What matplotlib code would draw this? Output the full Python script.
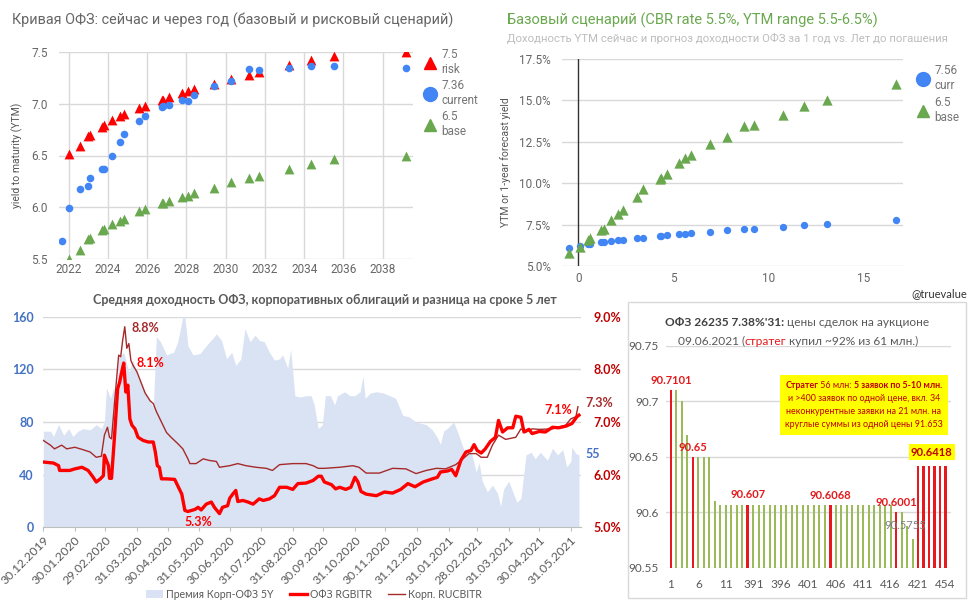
import matplotlib
matplotlib.use('Agg')
import matplotlib.pyplot as plt
import pandas as pd
from matplotlib.lines import Line2D
from matplotlib.patches import Patch, Rectangle
from matplotlib.offsetbox import TextArea, HPacker, VPacker, AnnotationBbox
from matplotlib.ticker import FuncFormatter

plt.rcParams['font.family'] = ['Roboto', 'DejaVu Sans']
XL_FONT = ['Lato', 'Noto Sans', 'DejaVu Sans']

# ---------------- Panel 1: OFZ curve now and in one year ----------------
years_current = [2021.66, 2022.0, 2022.58, 2022.97, 2023.1, 2023.69, 2023.79, 2024.2, 2024.59, 2024.83,
                 2025.56, 2025.9, 2026.74, 2026.79, 2027.11, 2027.76, 2028.06, 2028.4, 2029.41, 2030.28,
                 2031.2, 2031.71, 2033.23, 2034.35, 2035.53, 2039.17]
ytm_current = [5.67, 5.99, 6.18, 6.21, 6.28, 6.37, 6.37, 6.50, 6.63, 6.71,
               6.83, 6.88, 6.97, 6.98, 6.99, 7.04, 7.03, 7.08, 7.17, 7.22,
               7.34, 7.33, 7.35, 7.36, 7.36, 7.35]
years_forecast = [2022.0, 2022.58, 2022.97, 2023.1, 2023.69, 2023.79, 2024.2, 2024.59, 2024.83,
                  2025.56, 2025.9, 2026.74, 2026.79, 2027.11, 2027.76, 2028.06, 2028.4, 2029.41, 2030.28,
                  2031.2, 2031.71, 2033.23, 2034.35, 2035.53, 2039.17]
ytm_risk = [6.51, 6.59, 6.69, 6.70, 6.78, 6.79, 6.84, 6.88, 6.90,
            6.96, 6.98, 7.04, 7.04, 7.07, 7.10, 7.12, 7.14, 7.19, 7.24,
            7.28, 7.31, 7.37, 7.42, 7.46, 7.50]
ytm_base = [5.50, 5.59, 5.69, 5.70, 5.78, 5.79, 5.84, 5.87, 5.89,
            5.96, 5.98, 6.04, 6.04, 6.06, 6.10, 6.11, 6.14, 6.19, 6.24,
            6.28, 6.30, 6.37, 6.42, 6.47, 6.50]
p1_year_ticks = [2022, 2024, 2026, 2028, 2030, 2032, 2034, 2036, 2038]
p1_yield_ticks = [5.5, 6.0, 6.5, 7.0, 7.5]
p1_legend = ['7.5\nrisk', '7.36\ncurrent', '6.5\nbase']

# ---------------- Panel 2: base scenario vs years to maturity ----------------
years_to_maturity = [-0.49, 0.1, 0.5, 0.61, 1.19, 1.35, 1.73, 2.08, 2.35, 3.08, 3.41, 4.27, 4.32, 4.64,
                     5.3, 5.6, 5.92, 6.93, 7.81, 8.73, 9.26, 10.77, 11.89, 13.1, 16.72]
ytm_curr2 = [6.11, 6.22, 6.31, 6.33, 6.43, 6.45, 6.51, 6.57, 6.59, 6.69, 6.71, 6.81, 6.81, 6.85,
             6.91, 6.94, 6.98, 7.08, 7.16, 7.22, 7.26, 7.38, 7.46, 7.54, 7.78]
forecast_base2 = [5.77, 6.17, 6.57, 6.67, 7.18, 7.24, 7.76, 8.17, 8.39, 9.15, 9.66, 10.26, 10.30, 10.58,
                  11.19, 11.53, 11.71, 12.36, 12.82, 13.47, 13.53, 14.13, 14.64, 15.04, 16.01]
p2_x_ticks = [0, 5, 10, 15]
p2_y_ticks = [5.0, 7.5, 10.0, 12.5, 15.0, 17.5]
p2_legend = ['7.56\ncurr', '6.5\nbase']

# ---------------- Panel 3: 5Y yields and spread ----------------
spread_dates = ['2019-12-30', '2020-01-06', '2020-01-09', '2020-01-14', '2020-01-19', '2020-01-24', '2020-01-28',
                '2020-02-02', '2020-02-07', '2020-02-14', '2020-02-20', '2020-02-25', '2020-02-28', '2020-03-01',
                '2020-03-05', '2020-03-08', '2020-03-11', '2020-03-13', '2020-03-18', '2020-03-23', '2020-03-27',
                '2020-04-01', '2020-04-06', '2020-04-13', '2020-04-16', '2020-04-19', '2020-04-23', '2020-04-29',
                '2020-05-06', '2020-05-10', '2020-05-15', '2020-05-17', '2020-05-20', '2020-05-25', '2020-06-01',
                '2020-06-07', '2020-06-14', '2020-06-17', '2020-06-22', '2020-06-27', '2020-07-02', '2020-07-06',
                '2020-07-11', '2020-07-15', '2020-07-20', '2020-07-25', '2020-07-29', '2020-08-03', '2020-08-08',
                '2020-08-13', '2020-08-18', '2020-08-21', '2020-08-26', '2020-08-29', '2020-09-02', '2020-09-07',
                '2020-09-13', '2020-09-18', '2020-09-21', '2020-09-25', '2020-09-29', '2020-10-02', '2020-10-07',
                '2020-10-11', '2020-10-14', '2020-10-21', '2020-10-26', '2020-10-31', '2020-11-05', '2020-11-08',
                '2020-11-10', '2020-11-15', '2020-11-21', '2020-11-28', '2020-12-04', '2020-12-10', '2020-12-17',
                '2020-12-23', '2020-12-30', '2021-01-09', '2021-01-15', '2021-01-20', '2021-01-23', '2021-01-26',
                '2021-01-31', '2021-02-05', '2021-02-10', '2021-02-15', '2021-02-20', '2021-02-23', '2021-02-27',
                '2021-03-02', '2021-03-05', '2021-03-10', '2021-03-15', '2021-03-20', '2021-03-23', '2021-03-26',
                '2021-03-31', '2021-04-04', '2021-04-08', '2021-04-12', '2021-04-17', '2021-04-22', '2021-04-26',
                '2021-05-01', '2021-05-08', '2021-05-13', '2021-05-18', '2021-05-23', '2021-05-27', '2021-05-31',
                '2021-06-01', '2021-06-05', '2021-06-08']
spread_bp = [73, 73, 69, 78, 70, 75, 69,
             73, 75, 74, 78, 75, 80, 106,
             98, 106, 91, 129, 133, 118, 127,
             114, 106, 95, 91, 145, 141, 131,
             133, 141, 160, 160, 138, 131, 132,
             138, 144, 147, 142, 128, 133, 123,
             128, 151, 141, 146, 142, 141, 133,
             127, 128, 131, 121, 135, 100, 99,
             100, 100, 93, 75, 78, 100, 100,
             93, 100, 103, 100, 100, 103, 115,
             98, 102, 103, 102, 100, 98, 85,
             84, 80, 78, 74, 68, 63, 73,
             76, 80, 70, 59, 60, 55, 42,
             49, 35, 27, 32, 26, 16, 29,
             35, 27, 19, 22, 55, 57, 52,
             57, 51, 60, 55, 59, 46, 50,
             61, 56, 55]

ofz_dates = ['2019-12-30', '2020-01-09', '2020-01-14', '2020-01-15', '2020-01-25', '2020-01-30', '2020-02-06',
             '2020-02-12', '2020-02-17', '2020-02-20', '2020-02-24', '2020-02-27', '2020-02-28', '2020-03-03',
             '2020-03-04', '2020-03-06', '2020-03-09', '2020-03-12', '2020-03-14', '2020-03-16', '2020-03-18',
             '2020-03-20', '2020-03-22', '2020-03-24', '2020-03-26', '2020-03-29', '2020-04-01', '2020-04-06',
             '2020-04-11', '2020-04-16', '2020-04-18', '2020-04-20', '2020-04-22', '2020-04-24', '2020-04-29',
             '2020-05-07', '2020-05-10', '2020-05-14', '2020-05-17', '2020-05-20', '2020-05-27', '2020-05-30',
             '2020-06-02', '2020-06-07', '2020-06-12', '2020-06-15', '2020-06-20', '2020-06-23', '2020-06-28',
             '2020-06-30', '2020-07-03', '2020-07-06', '2020-07-08', '2020-07-13', '2020-07-18', '2020-07-23',
             '2020-07-29', '2020-08-02', '2020-08-08', '2020-08-13', '2020-08-18', '2020-08-25', '2020-08-31',
             '2020-09-05', '2020-09-13', '2020-09-20', '2020-09-25', '2020-09-28', '2020-10-01', '2020-10-08',
             '2020-10-12', '2020-10-16', '2020-10-22', '2020-10-27', '2020-10-31', '2020-11-03', '2020-11-06',
             '2020-11-11', '2020-11-21', '2020-11-29', '2020-12-07', '2020-12-15', '2020-12-22', '2020-12-29',
             '2021-01-06', '2021-01-15', '2021-01-20', '2021-01-23', '2021-01-30', '2021-02-03', '2021-02-07',
             '2021-02-12', '2021-02-17', '2021-02-22', '2021-02-25', '2021-02-28', '2021-03-04', '2021-03-08',
             '2021-03-13', '2021-03-18', '2021-03-21', '2021-03-25', '2021-03-30', '2021-04-04', '2021-04-07',
             '2021-04-12', '2021-04-15', '2021-04-20', '2021-04-23', '2021-04-30', '2021-05-06', '2021-05-13',
             '2021-05-19', '2021-05-26', '2021-06-01', '2021-06-06', '2021-06-08']
ofz_yield = [6.24, 6.22, 6.17, 6.08, 6.08, 6.11, 6.14,
             6.08, 5.95, 5.86, 5.92, 5.98, 6.37, 6.17,
             5.93, 5.93, 6.75, 7.63, 7.76, 7.95, 8.12,
             7.57, 7.70, 7.06, 6.94, 6.87, 6.71, 6.65,
             6.62, 6.62, 6.43, 6.17, 6.14, 5.92, 5.92,
             5.91, 5.79, 5.63, 5.32, 5.30, 5.34, 5.38,
             5.33, 5.44, 5.48, 5.38, 5.26, 5.38, 5.41,
             5.55, 5.63, 5.70, 5.49, 5.51, 5.48, 5.44,
             5.54, 5.51, 5.54, 5.60, 5.76, 5.76, 5.72,
             5.83, 5.84, 5.89, 5.97, 5.97, 5.86, 5.81,
             5.73, 5.76, 5.72, 5.76, 5.95, 5.86, 5.68,
             5.63, 5.60, 5.67, 5.65, 5.72, 5.83, 5.77,
             5.86, 5.92, 5.95, 6.05, 6.07, 6.10, 5.98,
             6.27, 6.43, 6.46, 6.57, 6.46, 6.41, 6.49,
             6.63, 6.71, 7.03, 6.81, 6.89, 6.89, 7.11,
             7.09, 6.81, 6.86, 6.78, 6.82, 6.81, 6.90,
             6.89, 6.92, 6.97, 7.10, 7.13]

corp_dates = ['2019-12-30', '2020-01-06', '2020-01-10', '2020-01-17', '2020-01-22', '2020-01-30', '2020-02-06',
              '2020-02-14', '2020-02-20', '2020-02-25', '2020-02-28', '2020-03-02', '2020-03-04', '2020-03-06',
              '2020-03-09', '2020-03-13', '2020-03-15', '2020-03-17', '2020-03-19', '2020-03-21', '2020-03-23',
              '2020-03-25', '2020-03-27', '2020-03-31', '2020-04-03', '2020-04-08', '2020-04-13', '2020-04-16',
              '2020-04-19', '2020-04-24', '2020-04-29', '2020-05-04', '2020-05-10', '2020-05-15', '2020-05-20',
              '2020-05-22', '2020-05-28', '2020-06-04', '2020-06-10', '2020-06-17', '2020-06-20', '2020-06-30',
              '2020-07-08', '2020-07-16', '2020-07-26', '2020-08-05', '2020-08-11', '2020-08-18', '2020-08-31',
              '2020-09-13', '2020-09-20', '2020-09-25', '2020-10-01', '2020-10-16', '2020-10-29', '2020-11-04',
              '2020-11-11', '2020-11-24', '2020-12-07', '2020-12-20', '2020-12-30', '2021-01-09', '2021-01-19',
              '2021-01-28', '2021-02-07', '2021-02-14', '2021-02-20', '2021-02-27', '2021-03-04', '2021-03-10',
              '2021-03-15', '2021-03-21', '2021-03-28', '2021-04-07', '2021-04-12', '2021-04-17', '2021-04-23',
              '2021-04-30', '2021-05-13', '2021-05-26', '2021-05-31', '2021-06-05', '2021-06-07']
corp_yield = [6.65, 6.56, 6.49, 6.56, 6.49, 6.52, 6.48,
              6.43, 6.33, 6.35, 6.75, 6.90, 6.71, 6.68,
              7.38, 8.27, 8.24, 8.56, 8.81, 8.40, 8.49,
              8.17, 8.08, 7.95, 7.80, 7.55, 7.40, 7.35,
              7.20, 7.00, 6.80, 6.70, 6.59, 6.49, 6.30,
              6.21, 6.21, 6.30, 6.27, 6.25, 6.14, 6.17,
              6.21, 6.17, 6.14, 6.12, 6.08, 6.19, 6.21,
              6.21, 6.17, 6.12, 6.12, 6.14, 6.17, 6.14,
              6.03, 6.03, 6.12, 6.11, 6.02, 6.08, 6.12,
              6.11, 6.19, 6.30, 6.40, 6.40, 6.33, 6.33,
              6.56, 6.75, 6.67, 6.71, 6.87, 6.81, 6.87,
              6.86, 6.87, 6.94, 7.06, 7.10, 7.29]
p3_date_ticks = ['2019-12-30', '2020-01-30', '2020-02-29', '2020-03-31', '2020-04-30', '2020-05-31',
                 '2020-06-30', '2020-07-31', '2020-08-31', '2020-09-30', '2020-10-31', '2020-11-30',
                 '2020-12-31', '2021-01-31', '2021-02-28', '2021-03-31', '2021-04-30', '2021-05-31']
p3_bp_ticks = [0, 40, 80, 120, 160]
p3_pct_ticks = [5.0, 6.0, 7.0, 8.0, 9.0]
p3_series_names = ['Премия Корп-ОФЗ 5Y', 'ОФЗ RGBITR', 'Корп. RUCBITR']

# ---------------- Panel 4: auction deal prices ----------------
auction_prices = [90.7101, 90.71, 90.70, 90.67, 90.65, 90.65, 90.65, 90.65, 90.61,
                  90.607, 90.607, 90.607, 90.607, 90.607, 90.607,
                  90.607, 90.607, 90.607, 90.607, 90.607, 90.607, 90.607,
                  90.607, 90.607, 90.607, 90.607, 90.607, 90.607, 90.607,
                  90.6068, 90.6068, 90.6068, 90.6068, 90.6068, 90.6068, 90.6068,
                  90.6068, 90.6068, 90.6068, 90.6068, 90.6068,
                  90.6001, 90.60, 90.588, 90.5755,
                  90.6418, 90.6418, 90.6418, 90.6418, 90.6418, 90.6418]
strateg_bid = [True, False, False, False, True, False, False, False, False,
               False, False, False, False, False, True,
               False, False, False, False, False, False, False,
               False, False, False, False, False, False, False,
               True, False, False, False, False, False, False,
               False, False, False, False, False,
               True, False, False, False,
               True, True, True, True, True, True]
auction_tick_labels = ['1', '6', '11', '391', '396', '401', '406', '411', '416', '421', '454']
auction_y_ticks = [90.55, 90.6, 90.65, 90.7, 90.75]
labelled_bars = [0, 4, 14, 29, 41]

W, H = 974, 608
fig = plt.figure(figsize=(W / 100, H / 100), dpi=100)
fig.patch.set_facecolor('white')


def fr(x0, y_top, x1, y_bot):
    return [x0 / W, 1 - y_bot / H, (x1 - x0) / W, (y_bot - y_top) / H]


RED = '#ff0000'
GREEN = '#6aa84f'
BLUE = '#4285f4'
GRID = '#d9d9d9'
TXT = '#666666'

# ===== Panel 1 =====
ax1 = fig.add_axes(fr(59, 52, 413, 259))
ax1.scatter(years_forecast, ytm_risk, marker='^', s=50, color=RED, zorder=3, linewidths=0)
ax1.scatter(years_forecast, ytm_base, marker='^', s=50, color=GREEN, zorder=3, linewidths=0)
ax1.scatter(years_current, ytm_current, marker='o', s=30, color=BLUE, zorder=4, linewidths=0)
ax1.set_xlim(2021.5, 2039.55)
ax1.set_ylim(5.5, 7.5)
ax1.set_xticks(p1_year_ticks)
ax1.set_yticks(p1_yield_ticks)
ax1.yaxis.set_major_formatter(FuncFormatter(lambda v, p: f'{v:.1f}'))
ax1.grid(True, color=GRID, lw=1)
ax1.set_axisbelow(True)
for s in ax1.spines.values():
    s.set_visible(False)
ax1.tick_params(length=0, labelsize=8.5, colors=TXT, pad=3)
ax1.tick_params(axis='y', pad=8)
ax1.set_ylabel('yield to maturity (YTM)', fontsize=7.5, color='#555555', labelpad=6)
h1 = [Line2D([], [], marker='^', ls='none', color=RED, markersize=8),
      Line2D([], [], marker='o', ls='none', color=BLUE, markersize=10),
      Line2D([], [], marker='^', ls='none', color=GREEN, markersize=8)]
ax1.legend(h1, p1_legend, loc='upper left', bbox_to_anchor=(1.01, 1.04), frameon=False,
           fontsize=8.5, labelcolor='#757575', handletextpad=0.2, labelspacing=0.25,
           handlelength=1.5, borderaxespad=0)
fig.text(12 / W, 1 - 20 / H, 'Кривая ОФЗ: сейчас и через год (базовый и рисковый сценарий)',
         fontsize=10.4, color='#666666', va='center', ha='left')

# ===== Panel 2 =====
ax2 = fig.add_axes(fr(562, 59, 903, 266))
ax2.scatter(years_to_maturity, ytm_curr2, marker='o', s=28, color=BLUE, zorder=3, linewidths=0)
ax2.scatter(years_to_maturity, forecast_base2, marker='^', s=55, color=GREEN, zorder=4, linewidths=0)
ax2.axvline(0, color='#333333', lw=1, zorder=2)
ax2.set_xlim(-0.86, 17.07)
ax2.set_ylim(5.0, 17.5)
ax2.set_xticks(p2_x_ticks)
ax2.set_yticks(p2_y_ticks)
ax2.yaxis.set_major_formatter(FuncFormatter(lambda v, p: f'{v:.1f}%'))
ax2.grid(True, axis='y', color=GRID, lw=1)
ax2.set_axisbelow(True)
for s in ax2.spines.values():
    s.set_visible(False)
ax2.tick_params(length=0, labelsize=8.5, colors=TXT, pad=4)
ax2.tick_params(axis='y', pad=8)
ax2.set_ylabel('YTM or 1-year forecast yield', fontsize=7.5, color='#555555', labelpad=6)
h2 = [Line2D([], [], marker='o', ls='none', color=BLUE, markersize=10),
      Line2D([], [], marker='^', ls='none', color=GREEN, markersize=8)]
ax2.legend(h2, p2_legend, loc='upper left', bbox_to_anchor=(1.02, 1.0), frameon=False,
           fontsize=8.5, labelcolor='#757575', handletextpad=0.2, labelspacing=0.35,
           handlelength=1.5, borderaxespad=0)
fig.text(507 / W, 1 - 20 / H, 'Базовый сценарий (CBR rate 5.5%, YTM range 5.5-6.5%)',
         fontsize=10.5, color=GREEN, va='center', ha='left')
fig.text(507 / W, 1 - 38 / H, 'Доходность YTM сейчас и прогноз доходности ОФЗ за 1 год vs. Лет до погашения',
         fontsize=8.2, color='#bdbdbd', va='center', ha='left')

# ===== Panel 3 =====
XL_GRAY = '#595959'
SPREAD_C = '#dae3f3'
OFZ_C = '#ff0000'
CORP_C = '#a52a2a'
LEFT_C = '#4472c4'
RIGHT_C = '#c00000'

sd = pd.to_datetime(spread_dates)
od = pd.to_datetime(ofz_dates)
cd = pd.to_datetime(corp_dates)

ax3 = fig.add_axes(fr(43.3, 316.7, 581, 527.3))
ax3.fill_between(sd, spread_bp, 0, color=SPREAD_C, lw=0, zorder=1)
ax3.set_ylim(0, 160)
ax3.set_yticks(p3_bp_ticks)
ax3.set_xlim(pd.Timestamp('2019-12-30'), pd.Timestamp('2021-06-10'))
ax3.grid(True, axis='y', color=GRID, lw=1)
ax3.set_axisbelow(True)
for k, s in ax3.spines.items():
    s.set_visible(k == 'bottom')
ax3.spines['bottom'].set_color('#bfbfbf')
ticks = pd.to_datetime(p3_date_ticks)
ax3.set_xticks(ticks)
ax3.set_xticklabels([t.strftime('%d.%m.%Y') for t in ticks], rotation=45, ha='right',
                    rotation_mode='anchor', fontsize=8.8, color=XL_GRAY, family=XL_FONT)
ax3.tick_params(axis='x', length=3, color='#bfbfbf', pad=2)
ax3.tick_params(axis='y', length=0, pad=7)
for lab in ax3.get_yticklabels():
    lab.set_color(LEFT_C)
    lab.set_fontweight('bold')
    lab.set_fontsize(9)
    lab.set_family(XL_FONT)

ax3r = ax3.twinx()
ax3r.plot(cd, corp_yield, color=CORP_C, lw=1.0, zorder=3)
ax3r.plot(od, ofz_yield, color=OFZ_C, lw=2.4, zorder=4)
ax3r.set_ylim(5.0, 9.0)
ax3r.set_yticks(p3_pct_ticks)
ax3r.yaxis.set_major_formatter(FuncFormatter(lambda v, p: f'{v:.1f}%'))
for s in ax3r.spines.values():
    s.set_visible(False)
ax3r.tick_params(axis='y', length=0, pad=9)
for lab in ax3r.get_yticklabels():
    lab.set_color(RIGHT_C)
    lab.set_fontweight('bold')
    lab.set_fontsize(9)
    lab.set_family(XL_FONT)

i_corp_max = max(range(len(corp_yield)), key=lambda i: corp_yield[i])
i_ofz_max = max(range(len(ofz_yield)), key=lambda i: ofz_yield[i])
i_ofz_min = min(range(len(ofz_yield)), key=lambda i: ofz_yield[i])
ann = dict(fontsize=9, fontweight='bold', family=XL_FONT, textcoords='offset points')
ax3r.annotate(f'{corp_yield[i_corp_max]:.1f}%', (cd[i_corp_max], corp_yield[i_corp_max]),
              xytext=(5, -1), ha='left', va='center', color=CORP_C, **ann)
ax3r.annotate(f'{ofz_yield[i_ofz_max]:.1f}%', (od[i_ofz_max], ofz_yield[i_ofz_max]),
              xytext=(9, 0), ha='left', va='center', color=OFZ_C, **ann)
ax3r.annotate(f'{ofz_yield[i_ofz_min]:.1f}%', (od[i_ofz_min], ofz_yield[i_ofz_min]),
              xytext=(-15, -6), ha='center', va='center', color=OFZ_C, **ann)
ax3r.annotate(f'{ofz_yield[-1]:.1f}%', (od[-1], ofz_yield[-1]),
              xytext=(-5, 4), ha='right', va='center', color=OFZ_C, **ann)
ax3r.annotate(f'{corp_yield[-1]:.1f}%', (cd[-1], corp_yield[-1]),
              xytext=(5, 3), ha='left', va='center', color=CORP_C, **ann)
ax3r.annotate(f'{spread_bp[-1]}', (sd[-1], spread_bp[-1] / 40 + 5.0),
              xytext=(5, 1), ha='left', va='center', color=LEFT_C, **ann)

fig.text(325 / W, 1 - 300 / H,
         'Средняя доходность ОФЗ, корпоративных облигаций и разница на сроке 5 лет',
         fontsize=9, fontweight='bold', color=XL_GRAY, ha='center', va='center', family=XL_FONT)
h3 = [Patch(fc=SPREAD_C, ec='none'), Line2D([], [], color=OFZ_C, lw=2.4), Line2D([], [], color=CORP_C, lw=1)]
fig.legend(h3, p3_series_names, loc='center', bbox_to_anchor=(314 / W, 1 - 594 / H), ncol=3,
           frameon=False, prop={'family': XL_FONT, 'size': 7.6}, labelcolor=XL_GRAY,
           handlelength=1.6, columnspacing=1.6, handletextpad=0.25)

# ===== Panel 4 =====
BAR_G = '#9bbb59'
BAR_R = '#e8191e'
ax4 = fig.add_axes(fr(666, 346, 951, 567.7))
idx = list(range(len(auction_prices)))
ax4.bar(idx, auction_prices, width=[0.5 if r else 0.38 for r in strateg_bid],
        color=[BAR_R if r else BAR_G for r in strateg_bid], zorder=2)
ax4.set_ylim(90.55, 90.75)
ax4.set_xlim(-0.9, 51)
ax4.set_yticks(auction_y_ticks)
ax4.yaxis.set_major_formatter(FuncFormatter(lambda v, p: f'{v:g}'))
ax4.set_xticks(idx[::5])
ax4.set_xticklabels(auction_tick_labels)
ax4.grid(True, axis='y', color=GRID, lw=1)
ax4.set_axisbelow(True)
for s in ax4.spines.values():
    s.set_visible(False)
ax4.tick_params(length=0, labelsize=8.5, colors=XL_GRAY, pad=8)
ax4.tick_params(axis='y', pad=5)
for lab in ax4.get_xticklabels() + ax4.get_yticklabels():
    lab.set_family(XL_FONT)

bl = dict(fontsize=8, fontweight='bold', family=XL_FONT, textcoords='offset points', ha='center', va='bottom')
for i in labelled_bars:
    ax4.annotate(f'{auction_prices[i]:g}', (i, auction_prices[i]), xytext=(0, 3),
                 color='#e31a1c', **bl)
ax4.annotate(f'{auction_prices[44]:g}', (44, auction_prices[44]), xytext=(-5, 6),
             color='#7f7f7f', fontsize=8, family=XL_FONT, textcoords='offset points', ha='center', va='bottom')
ax4.annotate(f'{auction_prices[45]:g}', (47.5, auction_prices[45]), xytext=(0, 6),
             color='#c00000', fontsize=8, fontweight='bold', family=XL_FONT, textcoords='offset points',
             ha='center', va='bottom', bbox=dict(fc='#ffff00', ec='none', pad=1.5))

# box border
fig.patches.append(Rectangle((628 / W, 1 - 598 / H), (966 - 628) / W, (598 - 302) / H,
                             transform=fig.transFigure, fill=False, ec='#d9d9d9', lw=1))
fig.text(967 / W, 1 - 294 / H, '@truevalue', fontsize=8, color='#333333', ha='right', va='center',
         family=XL_FONT)

tp = dict(fontsize=8.6, family=XL_FONT)
line1 = HPacker(children=[TextArea("ОФЗ 26235 7.38%'31:", textprops=dict(color='#404040', fontweight='bold', **tp)),
                          TextArea(" цены сделок на аукционе", textprops=dict(color=XL_GRAY, **tp))],
                align='baseline', pad=0, sep=0)
line2 = HPacker(children=[TextArea("09.06.2021 (", textprops=dict(color=XL_GRAY, **tp)),
                          TextArea("стратег", textprops=dict(color='#e31a1c', **tp)),
                          TextArea(" купил ~92% из 61 млн.)", textprops=dict(color=XL_GRAY, **tp))],
                align='baseline', pad=0, sep=0)
fig.add_artist(AnnotationBbox(line1, (797 / W, 1 - 322 / H), xycoords='figure fraction', frameon=False,
                              box_alignment=(0.5, 0.5)))
fig.add_artist(AnnotationBbox(line2, (798 / W, 1 - 341 / H), xycoords='figure fraction', frameon=False,
                              box_alignment=(0.5, 0.5)))

yp = dict(fontsize=6.4, family=XL_FONT, color='#c00000')
yl1 = HPacker(children=[TextArea("Стратег", textprops=dict(fontweight='bold', **yp)),
                        TextArea(" 56 млн: ", textprops=yp),
                        TextArea("5 заявок по 5-10 млн.", textprops=dict(fontweight='bold', **yp))],
              align='baseline', pad=0, sep=0)
ybox = VPacker(children=[yl1,
                         TextArea("и >400 заявок по одной цене, вкл. 34", textprops=yp),
                         TextArea("неконкурентные заявки на 21 млн. на", textprops=yp),
                         TextArea("круглые суммы из одной цены 91.653", textprops=yp)],
               align='center', pad=0, sep=3)
fig.add_artist(AnnotationBbox(ybox, (864 / W, 1 - 405 / H), xycoords='figure fraction', frameon=True,
                              box_alignment=(0.5, 0.5), pad=0.4,
                              bboxprops=dict(fc='#ffff00', ec='none')))

fig.savefig('out.png', dpi=100, facecolor='white')
